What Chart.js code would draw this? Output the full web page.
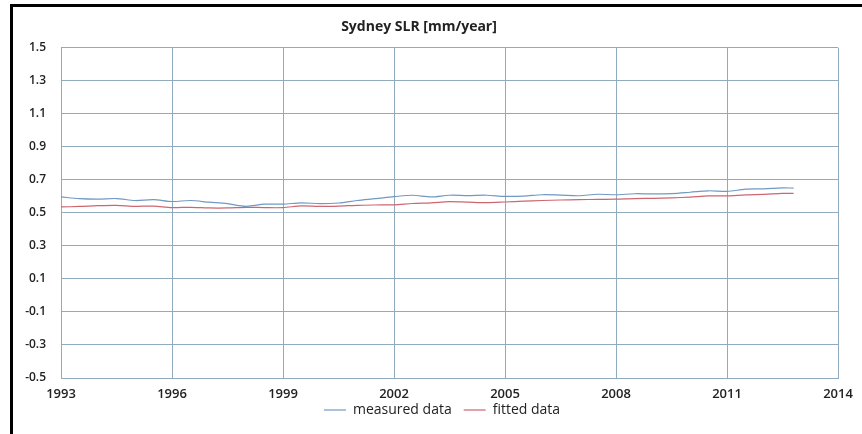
<!DOCTYPE html>
<html>
<head>
<meta charset="utf-8">
<script src="https://cdn.jsdelivr.net/npm/chart.js@4.4.1/dist/chart.umd.min.js"></script>
<style>
    html, body { margin: 0; padding: 0; background: #fff; }
    #wrap { position: relative; width: 862px; height: 434px; }
    #frame {
        position: absolute; left: 10px; top: 4px; right: 0; bottom: 0;
        border-left: 3px solid #000; border-top: 3px solid #000;
        pointer-events: none;
    }
</style>
</head>
<body>
<div id="wrap">
    <canvas id="slrChart" width="862" height="434"></canvas>
    <div id="frame"></div>
</div>
<script>
// Dados
const years = [1993.0, 1993.5, 1994.0, 1994.5, 1995.0, 1995.5, 1996.0, 1996.5, 1997.0, 1997.5,
    1998.0, 1998.5, 1999.0, 1999.5, 2000.0, 2000.5, 2001.0, 2001.5, 2002.0, 2002.5,
    2003.0, 2003.5, 2004.0, 2004.5, 2005.0, 2005.5, 2006.0, 2006.5, 2007.0, 2007.5,
    2008.0, 2008.5, 2009.0, 2009.5, 2010.0, 2010.5, 2011.0, 2011.5, 2012.0, 2012.5, 2012.8];

const measured = [0.597, 0.586, 0.583, 0.587, 0.575, 0.580, 0.569, 0.575, 0.565, 0.556,
    0.540, 0.553, 0.553, 0.561, 0.556, 0.560, 0.575, 0.586, 0.598, 0.607,
    0.597, 0.607, 0.605, 0.607, 0.600, 0.602, 0.610, 0.608, 0.604, 0.613,
    0.610, 0.616, 0.615, 0.617, 0.625, 0.634, 0.630, 0.644, 0.646, 0.652, 0.650];

const fitted = [0.536, 0.539, 0.544, 0.546, 0.540, 0.541, 0.532, 0.534, 0.530, 0.530,
    0.534, 0.532, 0.532, 0.543, 0.539, 0.541, 0.546, 0.548, 0.549, 0.557,
    0.561, 0.568, 0.565, 0.562, 0.566, 0.571, 0.575, 0.578, 0.580, 0.582,
    0.583, 0.587, 0.588, 0.591, 0.596, 0.603, 0.603, 0.609, 0.612, 0.618, 0.618];

const xTicks = [1993, 1996, 1999, 2002, 2005, 2008, 2011, 2014];
const yTicks = [-0.5, -0.3, -0.1, 0.1, 0.3, 0.5, 0.7, 0.9, 1.1, 1.3, 1.5];

const gridColor = '#8fabbd';
const fontFamily = '"Open Sans", "DejaVu Sans", sans-serif';

function toPoints(vals) {
    return years.map((y, i) => ({ x: y, y: vals[i] }));
}

// Legenda centrada sobre a área do gráfico e mais perto do eixo, como no original
const legendShift = {
    id: 'legendShift',
    afterLayout: function(chart) {
        chart.legend.left += 23;
        chart.legend.right += 23;
        chart.legend.top -= 11;
        chart.legend.bottom -= 11;
    }
};

document.addEventListener('DOMContentLoaded', function() {
    const ctx = document.getElementById('slrChart').getContext('2d');
    window.slrChart = new Chart(ctx, {
        type: 'line',
        data: {
            datasets: [{
                label: 'measured data',
                data: toPoints(measured),
                borderColor: '#7199c4',
                borderWidth: 1.2,
                pointRadius: 0,
                tension: 0.3
            }, {
                label: 'fitted data',
                data: toPoints(fitted),
                borderColor: '#cd6670',
                borderWidth: 1.2,
                pointRadius: 0,
                tension: 0.3
            }]
        },
        options: {
            responsive: false,
            animation: false,
            layout: { padding: { left: 0, right: 24, top: 0, bottom: 0 } },
            plugins: {
                title: {
                    display: true,
                    text: 'Sydney SLR [mm/year]',
                    color: '#222',
                    font: { family: fontFamily, size: 14, weight: 'bold' },
                    padding: { top: 19, bottom: 12 }
                },
                legend: {
                    position: 'bottom',
                    maxHeight: 32,
                    labels: {
                        usePointStyle: true,
                        pointStyle: 'line',
                        pointStyleWidth: 22,
                        color: '#222',
                        padding: 12,
                        font: { family: fontFamily, size: 14 }
                    }
                },
                tooltip: { enabled: false }
            },
            scales: {
                x: {
                    type: 'linear',
                    min: 1993,
                    max: 2014,
                    afterBuildTicks: function(scale) {
                        scale.ticks = xTicks.map(v => ({ value: v }));
                    },
                    afterFit: function(scale) { scale.height = 24; },
                    ticks: {
                        callback: v => String(v),
                        color: '#222',
                        padding: 8,
                        maxRotation: 0,
                        font: { family: fontFamily, size: 13, weight: '600' }
                    },
                    grid: { color: gridColor, drawTicks: false },
                    border: { color: gridColor }
                },
                y: {
                    min: -0.5,
                    max: 1.5,
                    afterBuildTicks: function(scale) {
                        scale.ticks = yTicks.map(v => ({ value: v }));
                    },
                    afterFit: function(scale) { scale.width = 61; },
                    ticks: {
                        callback: v => v.toFixed(1),
                        color: '#222',
                        padding: 15,
                        font: { family: fontFamily, size: 12, weight: '600' }
                    },
                    grid: { color: gridColor, drawTicks: false },
                    border: { color: '#a6a6a6' }
                }
            }
        },
        plugins: [legendShift]
    });
});
</script>
</body>
</html>
